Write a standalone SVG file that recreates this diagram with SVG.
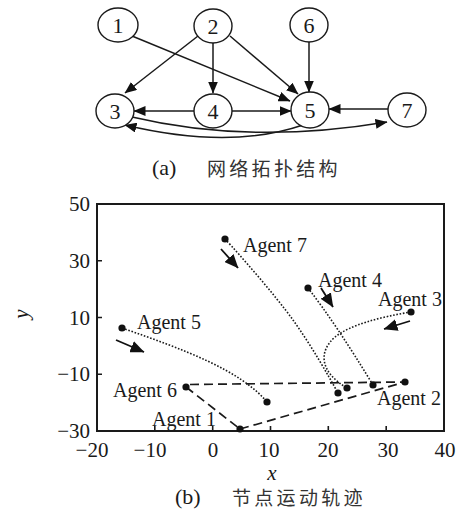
<svg xmlns="http://www.w3.org/2000/svg" width="463" height="515" viewBox="0 0 463 515">
<style>
.node ellipse{fill:#fff;stroke:#1a1a1a;stroke-width:1.4}
.num{font-family:"Liberation Serif","Times New Roman",serif;font-size:22px;fill:#1a1a1a;text-anchor:middle}
.edge{fill:none;stroke:#1a1a1a;stroke-width:1.5;marker-end:url(#ah)}
.tick{font-family:"Liberation Serif","Times New Roman",serif;font-size:21px;fill:#1a1a1a}
.lbl{font-family:"Liberation Serif","Times New Roman",serif;font-size:20px;fill:#1a1a1a}
.cap{font-family:"Liberation Serif","Times New Roman",serif;font-size:22px;fill:#1a1a1a}
.cjk{font-family:"Noto Sans CJK SC","Noto Sans CJK JP",sans-serif;font-size:19px;letter-spacing:3.3px;fill:#333}
.dot{fill:none;stroke:#1a1a1a;stroke-width:1.6;stroke-dasharray:1.6 1.7}
.dash{fill:none;stroke:#1a1a1a;stroke-width:1.7;stroke-dasharray:9 5}
.pt{fill:#111}
.dir{fill:none;stroke:#111;stroke-width:1.8;marker-end:url(#ah2)}
</style>
<defs>
<marker id="ah" markerUnits="userSpaceOnUse" markerWidth="12" markerHeight="10" refX="11.5" refY="5" orient="auto">
<path d="M0,0 L12,5 L0,10 z" fill="#111"/>
</marker>
<marker id="ah2" markerUnits="userSpaceOnUse" markerWidth="14" markerHeight="12" refX="13.5" refY="6" orient="auto">
<path d="M0,0 L14,6 L0,12 z" fill="#111"/>
</marker>
</defs>

<!-- (a) network topology -->
<g id="connectors">
<line class="edge" x1="132" y1="36" x2="290" y2="101"/>
<line class="edge" x1="198" y1="36" x2="125" y2="93"/>
<line class="edge" x1="213" y1="43" x2="213" y2="93"/>
<line class="edge" x1="230" y1="36" x2="298" y2="94"/>
<line class="edge" x1="309" y1="42" x2="309" y2="92"/>
<line class="edge" x1="194" y1="111" x2="134" y2="111"/>
<line class="edge" x1="232" y1="111" x2="291" y2="111"/>
<line class="edge" x1="388" y1="109" x2="329" y2="109"/>
<path class="edge" d="M132,117 Q250,145 387,122"/>
<path class="edge" d="M303,125 Q230,150 125,125"/>
</g>
<g id="node1" class="node"><ellipse cx="118" cy="25" rx="20" ry="17"/><text class="num" x="118" y="33">1</text></g>
<g id="node2" class="node"><ellipse cx="213" cy="26" rx="19" ry="17"/><text class="num" x="213" y="34">2</text></g>
<g id="node6" class="node"><ellipse cx="309" cy="25" rx="19" ry="17"/><text class="num" x="309" y="33">6</text></g>
<g id="node3" class="node"><ellipse cx="115" cy="111" rx="19" ry="17"/><text class="num" x="115" y="119">3</text></g>
<g id="node4" class="node"><ellipse cx="213" cy="111" rx="19" ry="17"/><text class="num" x="213" y="119">4</text></g>
<g id="node5" class="node"><ellipse cx="310" cy="110" rx="19" ry="18"/><text class="num" x="310" y="118">5</text></g>
<g id="node7" class="node"><ellipse cx="407" cy="110" rx="19" ry="17"/><text class="num" x="407" y="118">7</text></g>

<g id="caption-a">
<text class="cap" x="152" y="175">(a)</text>
<text class="cjk" x="207" y="176">网络拓扑结构</text>
</g>

<!-- (b) trajectories -->
<g id="axes">
<rect x="97" y="204" width="347" height="227" fill="none" stroke="#1a1a1a" stroke-width="2"/>
<path d="M97,260.75 H102 M97,317.5 H102 M97,374.25 H102 M154.8,431 V426 M212.7,431 V426 M270.5,431 V426 M328.3,431 V426 M386.2,431 V426" stroke="#1a1a1a" stroke-width="1.6" fill="none"/>
<g class="tick" text-anchor="end">
<text x="90" y="211">50</text>
<text x="90" y="268">30</text>
<text x="90" y="324.5">10</text>
<text x="90" y="381">−10</text>
<text x="90" y="438">−30</text>
</g>
<g class="tick" text-anchor="middle">
<text x="92" y="457">−20</text>
<text x="150" y="457">−10</text>
<text x="213" y="457">0</text>
<text x="269" y="457">10</text>
<text x="328" y="457">20</text>
<text x="388" y="457">30</text>
<text x="445" y="457">40</text>
</g>
<text class="tick" x="272" y="480" text-anchor="middle" font-style="italic" font-size="20">x</text>
<text class="tick" transform="translate(28,314) rotate(-90)" text-anchor="middle" font-style="italic">y</text>
</g>

<g id="trajectories">
<path class="dot" d="M225,239 C240,255 275,295 293,320 S328,375 338,393"/>
<path class="dot" d="M308,288 Q336,324 373,385"/>
<path class="dot" d="M411,312 C380,317 350,325 335,337 C318,352 320,372 347,388"/>
<path class="dot" d="M122,328 C185,350 240,370 267,402"/>
<line class="dash" x1="190" y1="384.5" x2="405" y2="382"/>
<line class="dash" x1="186" y1="387" x2="240" y2="429"/>
<line class="dash" x1="240" y1="429" x2="405" y2="382"/>
</g>

<g id="direction-arrows">
<line class="dir" x1="221" y1="249" x2="238" y2="268"/>
<line class="dir" x1="321" y1="288" x2="333" y2="307"/>
<line class="dir" x1="410" y1="321" x2="384" y2="329"/>
<line class="dir" x1="116" y1="340" x2="144" y2="352"/>
</g>

<g id="agents">
<circle class="pt" cx="225" cy="239" r="3.6"/>
<circle class="pt" cx="308" cy="288" r="3.6"/>
<circle class="pt" cx="411" cy="312" r="3.6"/>
<circle class="pt" cx="122" cy="328" r="3.6"/>
<circle class="pt" cx="186" cy="387" r="3.6"/>
<circle class="pt" cx="240" cy="429" r="3.6"/>
<circle class="pt" cx="405" cy="382" r="3.6"/>
<circle class="pt" cx="267" cy="402" r="3.6"/>
<circle class="pt" cx="338" cy="393" r="3.6"/>
<circle class="pt" cx="347" cy="388" r="3.6"/>
<circle class="pt" cx="373" cy="385" r="3.6"/>
<text class="lbl" x="243" y="252">Agent 7</text>
<text class="lbl" x="318" y="287">Agent 4</text>
<text class="lbl" x="378" y="306">Agent 3</text>
<text class="lbl" x="137" y="329">Agent 5</text>
<text class="lbl" x="113" y="397">Agent 6</text>
<text class="lbl" x="152" y="426">Agent 1</text>
<text class="lbl" x="377" y="405">Agent 2</text>
</g>

<g id="caption-b">
<text class="cap" x="175" y="504">(b)</text>
<text class="cjk" x="232" y="505">节点运动轨迹</text>
</g>
</svg>
